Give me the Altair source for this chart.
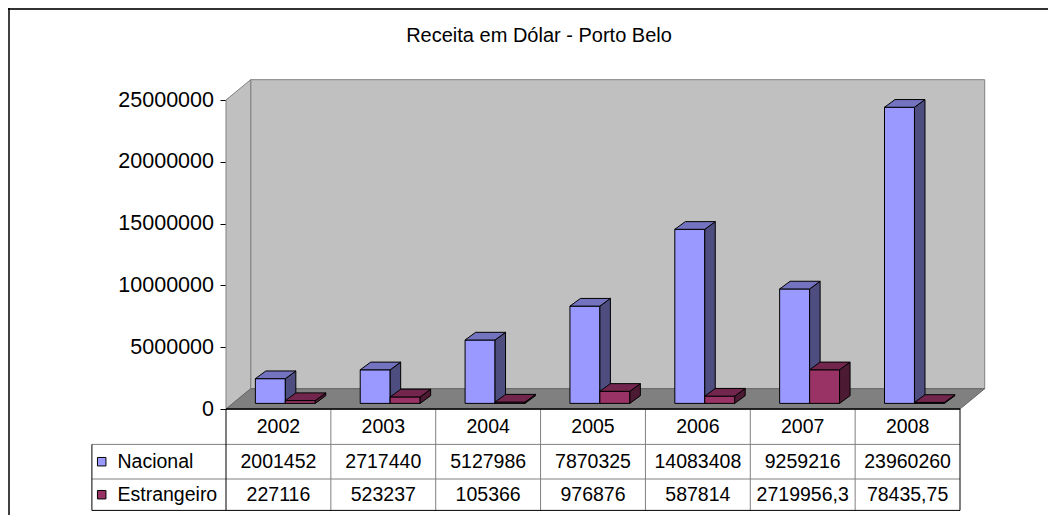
import altair as alt
import pandas as pd

# ---------------- data ----------------
years = ["2002", "2003", "2004", "2005", "2006", "2007", "2008"]
nacional = [2001452, 2717440, 5127986, 7870325, 14083408, 9259216, 23960260]
estrangeiro = [227116, 523237, 105366, 976876, 587814, 2719956.3, 78435.75]
series = ["Nacional", "Estrangeiro"]
y_ticks = [0, 5000000, 10000000, 15000000, 20000000, 25000000]
title_text = "Receita em Dólar - Porto Belo"

# ---------------- style ----------------
front_colors = ["#9999FF", "#993366"]
side_colors = ["#4D4D80", "#4D1A33"]
top_colors = ["#7373BF", "#73264D"]
WALL = "#C0C0C0"
FLOOR = "#808080"
FONT = "Liberation Sans"

Y_MAX = y_ticks[-1]
N = len(years)
PLOT_W, PLOT_H = 734, 309
PX_X = PLOT_W / N
PX_Y = PLOT_H / Y_MAX


def cx(px):
    return px / PX_X


def cy(px):
    return px / PX_Y


FLOOR_DX, FLOOR_DY = cx(24.7), cy(20.3)
BAR_W = 1 / 3.5
BAR_OFF_DX, BAR_OFF_DY = cx(6.9), cy(5.6)
BAR_DX, BAR_DY = cx(10.5), cy(7.7)
ROW_H = [35.4, 34.6, 31.4]
LABEL_LEFT, SQUARE_X, LABEL_TEXT_X = cx(-134.1), cx(-124.3), cx(-108.5)

XS = alt.Scale(domain=[0, N], nice=False, zero=False)
YS = alt.Scale(domain=[0, Y_MAX], nice=False)
YAX = alt.Axis(values=y_ticks, format="d", title=None, grid=False,
               domainColor="black", tickColor="black", tickSize=6,
               labelFontSize=21.5, labelFont=FONT, labelColor="black",
               labelPadding=6.5, labelFlush=False, labelOverlap=False)


def X(f):
    return alt.X(f, scale=XS, axis=None)


def Y(f):
    return alt.Y(f, scale=YS, axis=YAX)


# ---------------- walls & floor ----------------
one = pd.DataFrame({"k": [0]})
back = pd.DataFrame({"x0": [FLOOR_DX], "x1": [N + FLOOR_DX],
                     "y0": [FLOOR_DY], "y1": [Y_MAX + FLOOR_DY]})
side_wall = pd.DataFrame({"x": [0, FLOOR_DX], "ylo": [0, FLOOR_DY],
                          "yhi": [Y_MAX, Y_MAX + FLOOR_DY]})
floor = pd.DataFrame({"y": [0, FLOOR_DY], "xl": [0, FLOOR_DX], "xr": [N, N + FLOOR_DX]})

layers = [
    alt.Chart(back).mark_rect(fill=WALL, stroke="#808080", strokeWidth=1).encode(
        x=X("x0:Q"), x2="x1:Q", y=Y("y0:Q"), y2="y1:Q"),
    alt.Chart(side_wall).mark_area(fill=WALL, stroke="#808080", strokeWidth=1,
                                   interpolate="linear").encode(
        x=X("x:Q"), y=Y("ylo:Q"), y2="yhi:Q"),
    alt.Chart(floor).mark_area(fill=FLOOR, stroke="#666666", strokeWidth=1,
                               orient="horizontal", interpolate="linear").encode(
        y=Y("y:Q"), x=X("xl:Q"), x2="xr:Q"),
]

# ---------------- 3D bars ----------------
for si, (name, vals) in enumerate(zip(series, [nacional, estrangeiro])):
    fr, sd, tp = [], [], []
    for i, v in enumerate(vals):
        x0 = i + 0.5 - BAR_W + si * BAR_W + BAR_OFF_DX
        x1 = x0 + BAR_W
        y0 = BAR_OFF_DY
        y1 = BAR_OFF_DY + v
        fr.append({"x0": x0, "x1": x1, "y0": y0, "y1": y1})
        sd.append({"id": i, "x": x1, "ylo": y0, "yhi": y1})
        sd.append({"id": i, "x": x1 + BAR_DX, "ylo": y0 + BAR_DY, "yhi": y1 + BAR_DY})
        tp.append({"id": i, "y": y1, "xl": x0, "xr": x1})
        tp.append({"id": i, "y": y1 + BAR_DY, "xl": x0 + BAR_DX, "xr": x1 + BAR_DX})
    layers.append(alt.Chart(pd.DataFrame(fr)).mark_rect(
        fill=front_colors[si], stroke="black", strokeWidth=1).encode(
        x=X("x0:Q"), x2="x1:Q", y=Y("y0:Q"), y2="y1:Q"))
    layers.append(alt.Chart(pd.DataFrame(sd)).mark_area(
        fill=side_colors[si], stroke="black", strokeWidth=1, interpolate="linear").encode(
        x=X("x:Q"), y=Y("ylo:Q"), y2="yhi:Q", detail="id:N"))
    layers.append(alt.Chart(pd.DataFrame(tp)).mark_area(
        fill=top_colors[si], stroke="black", strokeWidth=1, orient="horizontal",
        interpolate="linear").encode(
        y=Y("y:Q"), x=X("xl:Q"), x2="xr:Q", detail="id:N"))

# frame (top and left edges)
layers.append(alt.Chart(one).mark_rule(color="#333333", strokeWidth=2).encode(
    x=alt.value(-218), x2=alt.value(1040 - 218), y=alt.value(-91)))
layers.append(alt.Chart(one).mark_rule(color="black", strokeWidth=1.5).encode(
    x=alt.value(-217), y=alt.value(-92), y2=alt.value(507 - 92)))

# title
layers.append(alt.Chart(pd.DataFrame({"t": [title_text]})).mark_text(
    font=FONT, fontSize=20, color="black", align="center", baseline="alphabetic").encode(
    text="t:N", x=alt.value(313), y=alt.value(-58.3)))

main = alt.layer(*layers)

# ---------------- data table ----------------
rng = [PLOT_H]
for h in ROW_H:
    rng.append(rng[-1] + h)
TS = alt.Scale(domain=[0, 1, 2, 3], range=rng, nice=False, zero=False)


def TY(f):
    return alt.Y(f, scale=TS, axis=None)


grey_lines = [{"x": float(i), "x2": float(i), "y": 0, "y2": 3} for i in range(1, N)]
grey_lines += [{"x": 0, "x2": N, "y": 1, "y2": 1},
               {"x": LABEL_LEFT, "x2": N, "y": 2, "y2": 2},
               {"x": LABEL_LEFT, "x2": 0, "y": 1, "y2": 1}]
black_lines = [{"x": LABEL_LEFT, "x2": LABEL_LEFT, "y": 1, "y2": 3},
               {"x": 0, "x2": 0, "y": 0, "y2": 3},
               {"x": N, "x2": N, "y": 0, "y2": 3},
               {"x": LABEL_LEFT, "x2": N, "y": 3, "y2": 3}]
edge_line = [{"x": 0, "x2": N, "y": 0, "y2": 0}]


def fmt(v):
    return str(v).replace(".", ",")


cells = [{"x": i + 0.5, "y": 0.5, "t": y} for i, y in enumerate(years)]
for r, vals in enumerate([nacional, estrangeiro]):
    cells += [{"x": i + 0.5, "y": 1.5 + r, "t": fmt(v)} for i, v in enumerate(vals)]
row_labels = pd.DataFrame({"x": [LABEL_TEXT_X] * 2, "y": [1.5, 2.5], "t": series})
keys = pd.DataFrame({"x": [SQUARE_X] * 2, "y": [1.5, 2.5], "c": front_colors})

table = alt.layer(
    alt.Chart(pd.DataFrame(grey_lines)).mark_rule(color="#808080", strokeWidth=1).encode(
        x=X("x:Q"), x2="x2:Q", y=TY("y:Q"), y2="y2:Q"),
    alt.Chart(pd.DataFrame(black_lines)).mark_rule(color="black", strokeWidth=1).encode(
        x=X("x:Q"), x2="x2:Q", y=TY("y:Q"), y2="y2:Q"),
    alt.Chart(pd.DataFrame(edge_line)).mark_rule(color="black", strokeWidth=1.5).encode(
        x=X("x:Q"), x2="x2:Q", y=TY("y:Q"), y2="y2:Q"),
    alt.Chart(pd.DataFrame(cells)).mark_text(font=FONT, fontSize=19.5, color="black",
                                             align="center", baseline="middle").encode(
        x=X("x:Q"), y=TY("y:Q"), text="t:N"),
    alt.Chart(row_labels).mark_text(font=FONT, fontSize=19.5, color="black",
                                    align="left", baseline="middle").encode(
        x=X("x:Q"), y=TY("y:Q"), text="t:N"),
    alt.Chart(keys).mark_square(size=72, opacity=1, stroke="black", strokeWidth=1).encode(
        x=X("x:Q"), y=TY("y:Q"), fill=alt.Fill("c:N", scale=None)),
)

chart = alt.layer(main, table).resolve_scale(y="independent").properties(
    width=PLOT_W, height=PLOT_H,
    padding={"left": 218, "top": 92, "right": 88, "bottom": 106},
    autosize=alt.AutoSizeParams(type="none"),
).configure_view(stroke=None).configure(background="white")

chart.save("out.html", embed_options={"renderer": "svg", "actions": False})
